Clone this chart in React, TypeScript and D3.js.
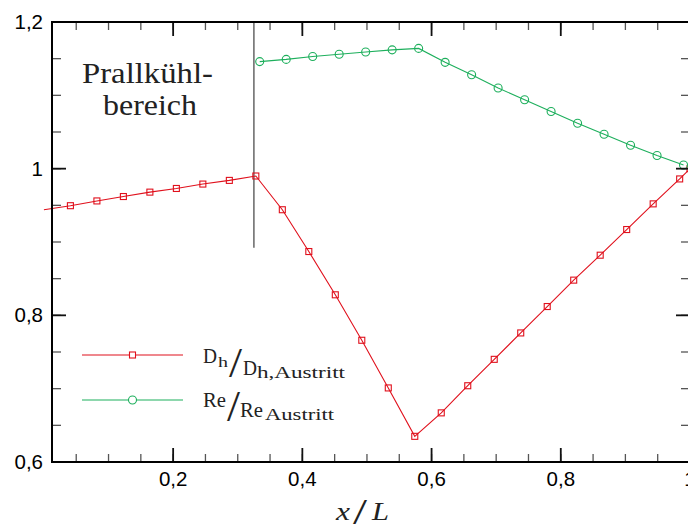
import React from "react";
import * as d3 from "d3";

const redX = [0, 0.041, 0.082, 0.123, 0.164, 0.205, 0.246, 0.287, 0.328, 0.369, 0.41, 0.451, 0.492, 0.533, 0.574, 0.615, 0.656, 0.697, 0.738, 0.779, 0.82, 0.861, 0.902, 0.943, 0.984, 1.0];
const redY = [0.944, 0.9495, 0.956, 0.962, 0.968, 0.973, 0.979, 0.984, 0.99, 0.944, 0.887, 0.828, 0.766, 0.701, 0.635, 0.667, 0.704, 0.74, 0.776, 0.812, 0.848, 0.882, 0.917, 0.952, 0.986, 1.0];
const greenX = [0.334, 0.375, 0.416, 0.457, 0.498, 0.539, 0.58, 0.621, 0.662, 0.703, 0.744, 0.785, 0.826, 0.867, 0.908, 0.949, 0.99];
const greenY = [1.146, 1.149, 1.153, 1.156, 1.159, 1.162, 1.164, 1.145, 1.128, 1.11, 1.094, 1.078, 1.062, 1.047, 1.032, 1.018, 1.005];
const xMajorTicks = [0.2, 0.4, 0.6, 0.8, 1];
const xTickLabels = ["0,2", "0,4", "0,6", "0,8", "1"];
const yMajorTicks = [0.6, 0.8, 1, 1.2];
const yTickLabels = ["0,6", "0,8", "1", "1,2"];
const regionBoundaryX = 0.325;
const regionBoundaryYLow = 0.892;

const W = 688;
const H = 527;
const RED = "#e0101c";
const GREEN = "#1daf5c";

export default function App() {
  const x = d3.scaleLinear().domain([0.0125, 1]).range([52, 690]);
  const y = d3.scaleLinear().domain([0.6, 1.2]).range([462, 22]);
  const [x0, x1] = x.range();
  const [yb, yt] = y.range();

  const xMinor = d3.range(0.05, 1.0001, 0.05).filter((v) => v >= 0.0125);
  const yMinor = d3.range(0.6, 1.2001, 0.05);

  const lineGen = d3.line<[number, number]>().x((d) => x(d[0])).y((d) => y(d[1]));
  const redPath = lineGen(redX.map((v, i) => [v, redY[i]] as [number, number]));
  const greenPath = lineGen(greenX.map((v, i) => [v, greenY[i]] as [number, number]));

  const serif = "'Liberation Serif', 'Times New Roman', serif";
  const sans = "'Liberation Sans', Arial, sans-serif";
  const textCol = "#222";

  return (
    <svg width={W} height={H} style={{ position: "absolute", left: 0, top: 0, display: "block", background: "#fff" }}>
      <defs>
        <clipPath id="plotclip">
          <rect x={40} y={yt - 2} width={W - 40} height={yb - yt + 4} />
        </clipPath>
      </defs>
      <rect x={0} y={0} width={W} height={H} fill="#fff" />

      {/* region boundary */}
      <line x1={x(regionBoundaryX)} x2={x(regionBoundaryX)} y1={y(1.2)} y2={y(regionBoundaryYLow)} stroke="#666" strokeWidth={1.5} />

      {/* series */}
      <g clipPath="url(#plotclip)">
        <path d={redPath || ""} fill="none" stroke={RED} strokeWidth={1.1} />
        <path d={greenPath || ""} fill="none" stroke={GREEN} strokeWidth={1.1} />
        {redX.map((v, i) =>
          v >= 0.0125 ? (
            <rect key={"r" + i} x={x(v) - 3} y={y(redY[i]) - 3} width={6} height={6} fill="none" stroke={RED} strokeWidth={1.1} />
          ) : null
        )}
        {greenX.map((v, i) => (
          <circle key={"g" + i} cx={x(v)} cy={y(greenY[i])} r={4} fill="none" stroke={GREEN} strokeWidth={1.1} />
        ))}
      </g>

      {/* minor ticks */}
      <g stroke="#555" strokeWidth={1.3}>
        {xMinor.map((v, i) => (
          <g key={"xm" + i}>
            <line x1={x(v)} x2={x(v)} y1={yb} y2={yb - 8} />
            <line x1={x(v)} x2={x(v)} y1={yt} y2={yt + 8} />
          </g>
        ))}
        {yMinor.map((v, i) => (
          <g key={"ym" + i}>
            <line x1={x0} x2={x0 + 9} y1={y(v)} y2={y(v)} />
            <line x1={x1} x2={x1 - 9} y1={y(v)} y2={y(v)} />
          </g>
        ))}
      </g>
      {/* major ticks */}
      <g stroke="#111" strokeWidth={1.8}>
        {xMajorTicks.map((v, i) => (
          <g key={"xM" + i}>
            <line x1={x(v)} x2={x(v)} y1={yb} y2={yb - 14} />
            <line x1={x(v)} x2={x(v)} y1={yt} y2={yt + 14} />
          </g>
        ))}
        {yMajorTicks.map((v, i) => (
          <g key={"yM" + i}>
            <line x1={x0} x2={x0 + 14} y1={y(v)} y2={y(v)} />
            <line x1={x1} x2={x1 - 14} y1={y(v)} y2={y(v)} />
          </g>
        ))}
      </g>
      {/* axes frame */}
      <rect x={x0} y={yt} width={x1 - x0} height={yb - yt} fill="none" stroke="#000" strokeWidth={2} />

      {/* tick labels */}
      <g fontFamily={sans} fontSize={20.5} fill="#000">
        {xMajorTicks.map((v, i) => (
          <text key={"xl" + i} x={x(v)} y={486} textAnchor="middle">
            {xTickLabels[i]}
          </text>
        ))}
        {yMajorTicks.map((v, i) => (
          <text key={"yl" + i} x={43} y={y(v) + 7} textAnchor="end">
            {yTickLabels[i]}
          </text>
        ))}
      </g>

      {/* x axis title */}
      <g fontFamily={serif} fill={textCol}>
        <text x={336} y={520} fontSize={26} fontStyle="italic" textLength={14} lengthAdjust="spacingAndGlyphs">x</text>
        <text x={353} y={524} fontSize={35} textLength={14} lengthAdjust="spacingAndGlyphs">/</text>
        <text x={372} y={520} fontSize={26} fontStyle="italic" textLength={17} lengthAdjust="spacingAndGlyphs">L</text>
      </g>

      {/* annotation */}
      <g fontFamily={serif} fill={textCol} fontSize={30}>
        <text x={82} y={83} textLength={131} lengthAdjust="spacingAndGlyphs">Prallkühl-</text>
        <text x={103} y={115} textLength={94} lengthAdjust="spacingAndGlyphs">bereich</text>
      </g>

      {/* legend */}
      <g>
        <line x1={82} x2={183} y1={355} y2={355} stroke={RED} strokeWidth={1.1} />
        <rect x={132.5 - 3} y={355 - 3} width={6} height={6} fill="#fff" stroke={RED} strokeWidth={1.1} />
        <line x1={82} x2={183} y1={400} y2={400} stroke={GREEN} strokeWidth={1.1} />
        <circle cx={132.5} cy={400} r={4} fill="#fff" stroke={GREEN} strokeWidth={1.1} />
      </g>
      <g fontFamily={serif} fill={textCol}>
        <text x={203} y={363} fontSize={20} textLength={14} lengthAdjust="spacingAndGlyphs">D</text>
        <text x={218} y={367} fontSize={15} textLength={10} lengthAdjust="spacingAndGlyphs">h</text>
        <text x={229} y={377} fontSize={43} textLength={13} lengthAdjust="spacingAndGlyphs">/</text>
        <text x={243} y={375} fontSize={20} textLength={14} lengthAdjust="spacingAndGlyphs">D</text>
        <text x={257} y={378} fontSize={16} textLength={88} lengthAdjust="spacingAndGlyphs">h,Austritt</text>

        <text x={203} y={407} fontSize={20} textLength={23} lengthAdjust="spacingAndGlyphs">Re</text>
        <text x={227} y={421} fontSize={45} textLength={13} lengthAdjust="spacingAndGlyphs">/</text>
        <text x={240} y={417} fontSize={20} textLength={23} lengthAdjust="spacingAndGlyphs">Re</text>
        <text x={265} y={420} fontSize={16} textLength={69} lengthAdjust="spacingAndGlyphs">Austritt</text>
      </g>
    </svg>
  );
}
